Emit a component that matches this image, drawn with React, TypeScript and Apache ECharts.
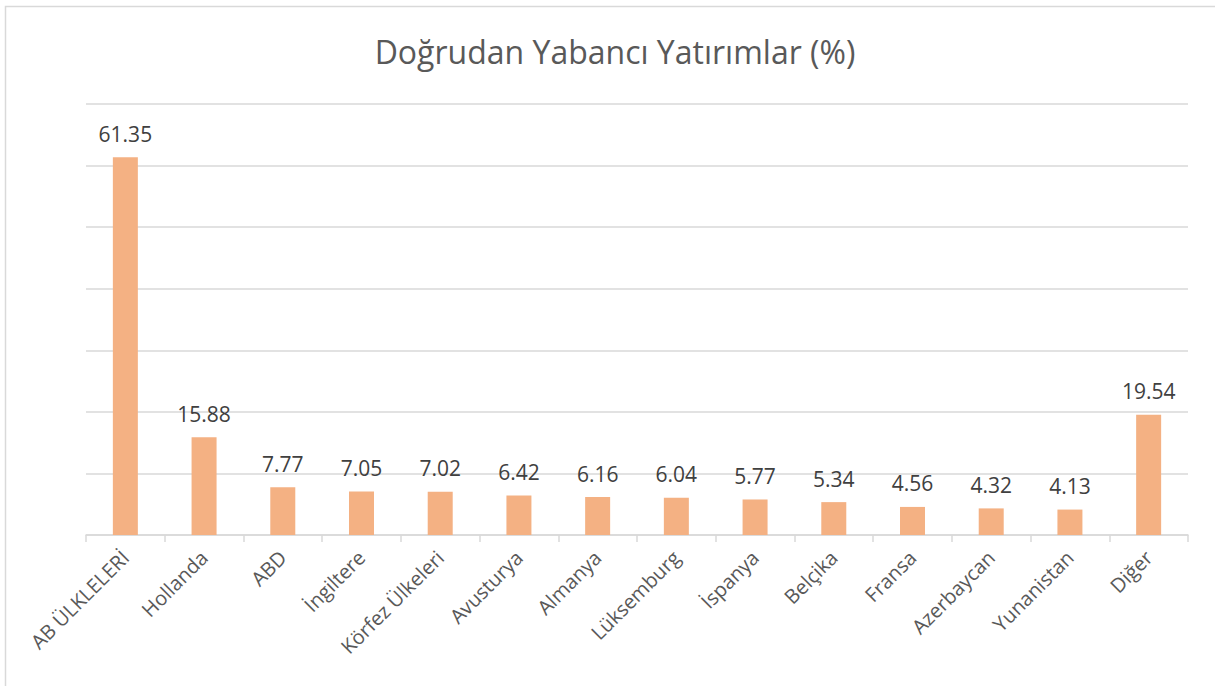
import React, { useEffect, useRef } from "react";
import * as echarts from "echarts";

const titleText = "Doğrudan Yabancı Yatırımlar (%)";
const categories = [
  "AB ÜLKLELERİ",
  "Hollanda",
  "ABD",
  "İngiltere",
  "Körfez Ülkeleri",
  "Avusturya",
  "Almanya",
  "Lüksemburg",
  "İspanya",
  "Belçika",
  "Fransa",
  "Azerbaycan",
  "Yunanistan",
  "Diğer",
];
const values = [61.35, 15.88, 7.77, 7.05, 7.02, 6.42, 6.16, 6.04, 5.77, 5.34, 4.56, 4.32, 4.13, 19.54];

const FONT = "'Open Sans', 'Noto Sans', sans-serif";

export default function App() {
  const ref = useRef<HTMLDivElement>(null);
  useEffect(() => {
    if (!ref.current) return;
    const chart = echarts.init(ref.current, null, { renderer: "svg" });
    chart.setOption({
      animation: false,
      backgroundColor: "#ffffff",
      title: {
        text: titleText,
        left: 610,
        textAlign: "center",
        top: 30,
        textStyle: { fontFamily: FONT, fontSize: 32, fontWeight: "normal", color: "#595959" },
      },
      graphic: [
        {
          type: "rect",
          shape: { x: 5.5, y: 6.5, width: 1230, height: 700 },
          style: { fill: "none", stroke: "#d9d9d9", lineWidth: 1.5 },
          silent: true,
        },
      ],
      grid: { left: 86, right: 27, top: 104, bottom: 151, containLabel: false },
      xAxis: {
        type: "category",
        data: categories,
        axisLine: { lineStyle: { color: "#d9d9d9", width: 1.5 } },
        axisTick: { show: true, length: 7, lineStyle: { color: "#d9d9d9", width: 1.5 } },
        axisLabel: {
          rotate: 45,
          interval: 0,
          margin: 19,
          fontFamily: FONT,
          fontSize: 20,
          color: "#595959",
        },
      },
      yAxis: {
        type: "value",
        min: 0,
        max: 70,
        interval: 10,
        axisLabel: { show: false },
        axisLine: { show: false },
        axisTick: { show: false },
        splitLine: { lineStyle: { color: "#d9d9d9", width: 1.5 } },
      },
      series: [
        {
          type: "bar",
          data: values,
          barWidth: 25,
          itemStyle: { color: "#f4b183" },
          label: {
            show: true,
            position: "top",
            distance: 13,
            fontFamily: FONT,
            fontSize: 21,
            color: "#404040",
            formatter: (p: any) => p.value.toFixed(2),
          },
        },
      ],
    });
    return () => chart.dispose();
  }, []);
  return (
    <div
      ref={ref}
      style={{ position: "fixed", left: 0, top: 0, width: 1215, height: 686 }}
    />
  );
}
